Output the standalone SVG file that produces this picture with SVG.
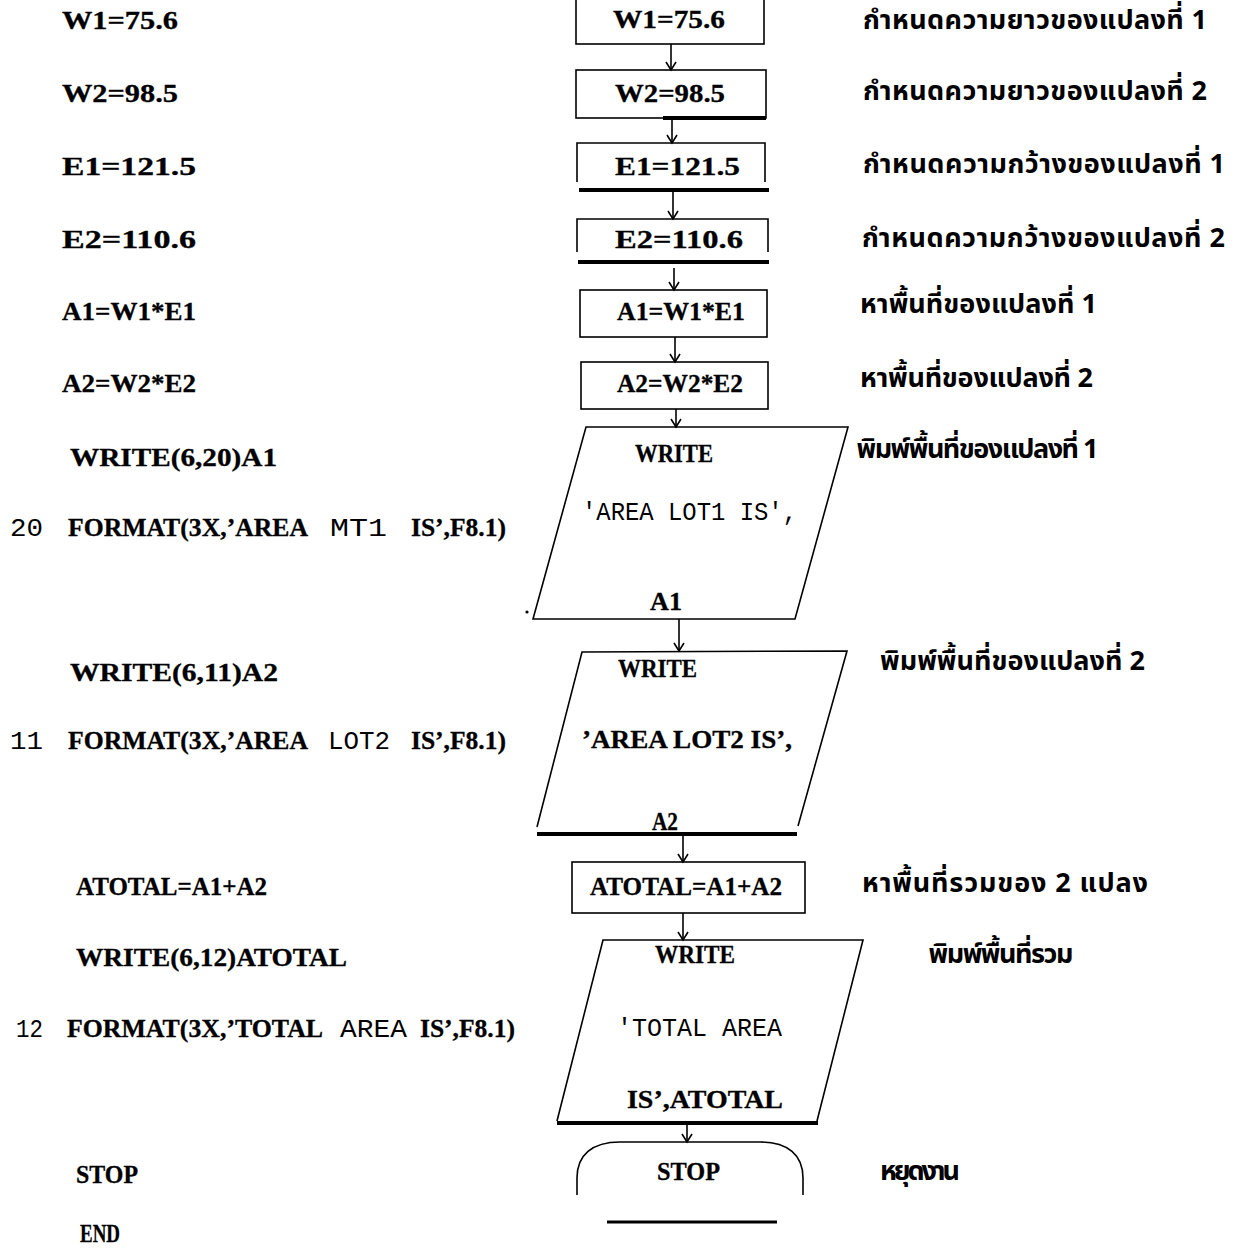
<svg xmlns="http://www.w3.org/2000/svg" width="1235" height="1258" viewBox="0 0 1235 1258">
<style>
.b{font-family:"Liberation Serif",serif;font-weight:bold;font-size:25px;fill:#000;stroke:#000;stroke-width:0.3}
.m{font-family:"Liberation Mono",monospace;font-size:25px;fill:#000}
.t{font-family:"Noto Sans Thai","Noto Sans","DejaVu Sans",sans-serif;font-weight:bold;font-size:27px;fill:#000}
.ln{fill:none;stroke:#000;stroke-width:1.6}
.tk{fill:none;stroke:#000;stroke-width:4}
.cn{fill:none;stroke:#000;stroke-width:1.6;marker-end:url(#ah)}
</style>
<defs>
<marker id="ah" markerUnits="userSpaceOnUse" markerWidth="12" markerHeight="12" refX="10" refY="6" orient="auto" viewBox="0 0 12 12">
<path d="M2,1 L10,6 L2,11" fill="none" stroke="#000" stroke-width="1.6"/>
</marker>
</defs>
<rect width="1235" height="1258" fill="#fff"/>

<g id="code">
<text class="b" x="62" y="29" textLength="116" lengthAdjust="spacingAndGlyphs">W1=75.6</text>
<text class="b" x="62" y="102" textLength="116" lengthAdjust="spacingAndGlyphs">W2=98.5</text>
<text class="b" x="62" y="175" textLength="134" lengthAdjust="spacingAndGlyphs">E1=121.5</text>
<text class="b" x="62" y="248" textLength="134" lengthAdjust="spacingAndGlyphs">E2=110.6</text>
<text class="b" x="62" y="320" textLength="134" lengthAdjust="spacingAndGlyphs">A1=W1*E1</text>
<text class="b" x="62" y="392" textLength="134" lengthAdjust="spacingAndGlyphs">A2=W2*E2</text>
<text class="b" x="70" y="466" textLength="207" lengthAdjust="spacingAndGlyphs">WRITE(6,20)A1</text>
<text class="m" x="10" y="536" textLength="33" lengthAdjust="spacingAndGlyphs">20</text>
<text class="b" x="68" y="536" textLength="240" lengthAdjust="spacingAndGlyphs">FORMAT(3X,’AREA</text>
<text class="m" x="330" y="536" textLength="57" lengthAdjust="spacingAndGlyphs">MT1</text>
<text class="b" x="411" y="536" textLength="95" lengthAdjust="spacingAndGlyphs">IS’,F8.1)</text>
<text class="b" x="70" y="681" textLength="208" lengthAdjust="spacingAndGlyphs">WRITE(6,11)A2</text>
<text class="m" x="10" y="749" textLength="33" lengthAdjust="spacingAndGlyphs">11</text>
<text class="b" x="68" y="749" textLength="240" lengthAdjust="spacingAndGlyphs">FORMAT(3X,’AREA</text>
<text class="m" x="328" y="749" textLength="62" lengthAdjust="spacingAndGlyphs">LOT2</text>
<text class="b" x="411" y="749" textLength="95" lengthAdjust="spacingAndGlyphs">IS’,F8.1)</text>
<text class="b" x="76" y="895" textLength="191" lengthAdjust="spacingAndGlyphs">ATOTAL=A1+A2</text>
<text class="b" x="76" y="966" textLength="271" lengthAdjust="spacingAndGlyphs">WRITE(6,12)ATOTAL</text>
<text class="m" x="16" y="1037" textLength="27" lengthAdjust="spacingAndGlyphs">12</text>
<text class="b" x="67" y="1037" textLength="256" lengthAdjust="spacingAndGlyphs">FORMAT(3X,’TOTAL</text>
<text class="m" x="340" y="1037" textLength="67" lengthAdjust="spacingAndGlyphs">AREA</text>
<text class="b" x="420" y="1037" textLength="95" lengthAdjust="spacingAndGlyphs">IS’,F8.1)</text>
<text class="b" x="76" y="1183" textLength="62" lengthAdjust="spacingAndGlyphs">STOP</text>
<text class="b" x="80" y="1242" textLength="40" lengthAdjust="spacingAndGlyphs">END</text>
</g>

<g id="comments">
<text class="t" x="863" y="29" textLength="344">กำหนดความยาวของแปลงที่ 1</text>
<text class="t" x="863" y="100" textLength="344">กำหนดความยาวของแปลงที่ 2</text>
<text class="t" x="863" y="173" textLength="362">กำหนดความกว้างของแปลงที่ 1</text>
<text class="t" x="862" y="247" textLength="363">กำหนดความกว้างของแปลงที่ 2</text>
<text class="t" x="860" y="313" textLength="237">หาพื้นที่ของแปลงที่ 1</text>
<text class="t" x="860" y="387" textLength="233">หาพื้นที่ของแปลงที่ 2</text>
<text class="t" x="855" y="458" textLength="242">พิมพ์พื้นที่ของแปลงที่ 1</text>
<text class="t" x="880" y="670" textLength="265">พิมพ์พื้นที่ของแปลงที่ 2</text>
<text class="t" x="862" y="892" textLength="286">หาพื้นที่รวมของ 2 แปลง</text>
<text class="t" x="927" y="963" textLength="145">พิมพ์พื้นที่รวม</text>
<text class="t" x="880" y="1180" textLength="80">หยุดงาน</text>
</g>

<g id="n1">
<rect class="ln" x="576" y="-2" width="188" height="46"/>
<text class="b" x="613" y="28" textLength="112" lengthAdjust="spacingAndGlyphs">W1=75.6</text>
</g>
<g id="n2">
<rect class="ln" x="576" y="70" width="190" height="48"/>
<line class="tk" x1="663" y1="118" x2="766" y2="118"/>
<text class="b" x="615" y="102" textLength="110" lengthAdjust="spacingAndGlyphs">W2=98.5</text>
</g>
<g id="n3">
<polyline class="ln" points="577,182 577,143 765,143 765,182"/>
<line class="tk" x1="579" y1="190" x2="769" y2="190"/>
<text class="b" x="615" y="175" textLength="125" lengthAdjust="spacingAndGlyphs">E1=121.5</text>
</g>
<g id="n4">
<polyline class="ln" points="577,252 577,219 768,219 768,252"/>
<line class="tk" x1="578" y1="262" x2="769" y2="262"/>
<text class="b" x="615" y="248" textLength="128" lengthAdjust="spacingAndGlyphs">E2=110.6</text>
</g>
<g id="n5">
<rect class="ln" x="580" y="290" width="187" height="47"/>
<text class="b" x="617" y="320" textLength="128" lengthAdjust="spacingAndGlyphs">A1=W1*E1</text>
</g>
<g id="n6">
<rect class="ln" x="581" y="362" width="187" height="47"/>
<text class="b" x="617" y="392" textLength="126" lengthAdjust="spacingAndGlyphs">A2=W2*E2</text>
</g>
<g id="n7">
<polygon class="ln" points="586,427 848,427 795,619 533,619"/>
<circle cx="527" cy="612" r="1.6" fill="#000"/>
<text class="b" x="635" y="462" textLength="78" lengthAdjust="spacingAndGlyphs">WRITE</text>
<text class="m" x="582" y="520" textLength="215" lengthAdjust="spacingAndGlyphs">'AREA  LOT1  IS',</text>
<text class="b" x="650" y="610" textLength="32" lengthAdjust="spacingAndGlyphs">A1</text>
</g>
<g id="n8">
<polyline class="ln" points="537,827 582,652 847,651 798,826"/>
<line class="tk" x1="537" y1="834" x2="797" y2="834"/>
<text class="b" x="618" y="677" textLength="79" lengthAdjust="spacingAndGlyphs">WRITE</text>
<text class="b" x="582" y="748" textLength="210" lengthAdjust="spacingAndGlyphs">’AREA LOT2 IS’,</text>
<text class="b" x="652" y="830" textLength="26" lengthAdjust="spacingAndGlyphs">A2</text>
</g>
<g id="n9">
<rect class="ln" x="572" y="862" width="233" height="51"/>
<text class="b" x="590" y="895" textLength="192" lengthAdjust="spacingAndGlyphs">ATOTAL=A1+A2</text>
</g>
<g id="n10">
<polyline class="ln" points="557,1121 603,940 863,940 817,1121"/>
<line class="tk" x1="557" y1="1123" x2="818" y2="1123"/>
<text class="b" x="655" y="963" textLength="80" lengthAdjust="spacingAndGlyphs">WRITE</text>
<text class="m" x="617" y="1036" textLength="165" lengthAdjust="spacingAndGlyphs">'TOTAL  AREA</text>
<text class="b" x="627" y="1108" textLength="156" lengthAdjust="spacingAndGlyphs">IS’,ATOTAL</text>
</g>
<g id="n11">
<path class="ln" d="M577,1195 L577,1178 C577,1155 592,1142 620,1142 L760,1142 C788,1142 803,1155 803,1178 L803,1195"/>
<line x1="607" y1="1222" x2="777" y2="1222" stroke="#000" stroke-width="3"/>
<text class="b" x="657" y="1180" textLength="63" lengthAdjust="spacingAndGlyphs">STOP</text>
</g>

<g id="connectors">
<line class="cn" x1="671" y1="44" x2="671" y2="70"/>
<line class="cn" x1="672" y1="118" x2="672" y2="143"/>
<line class="cn" x1="673" y1="192" x2="673" y2="219"/>
<line class="cn" x1="674" y1="268" x2="674" y2="290"/>
<line class="cn" x1="675" y1="337" x2="675" y2="362"/>
<line class="cn" x1="676" y1="409" x2="676" y2="427"/>
<line class="cn" x1="679" y1="619" x2="679" y2="651"/>
<line class="cn" x1="683" y1="836" x2="683" y2="862"/>
<line class="cn" x1="683" y1="913" x2="683" y2="940"/>
<line class="cn" x1="687" y1="1125" x2="687" y2="1142"/>
</g>
</svg>
